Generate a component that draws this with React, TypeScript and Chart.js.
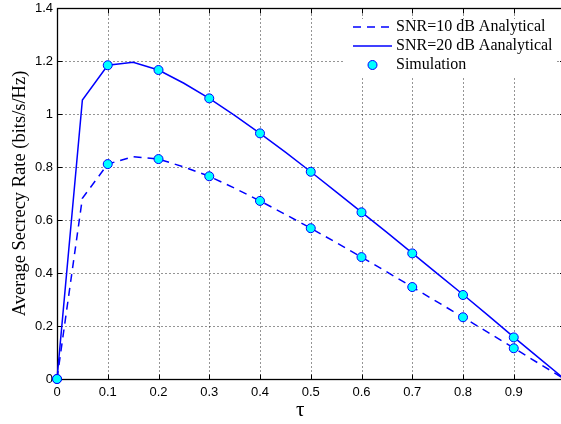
import React, { useEffect, useRef } from "react";
import { Chart, registerables } from "chart.js";

Chart.register(...registerables);

// ---- data ----
const tauLine = [0, 0.05, 0.1, 0.15, 0.2, 0.25, 0.3, 0.35, 0.4, 0.45, 0.5, 0.55, 0.6, 0.65, 0.7, 0.75, 0.8, 0.85, 0.9, 0.95, 1.0];
const analytic10 = [0, 0.682, 0.811, 0.839, 0.83, 0.8, 0.765, 0.72, 0.672, 0.621, 0.569, 0.515, 0.46, 0.404, 0.347, 0.29, 0.233, 0.175, 0.117, 0.058, 0];
const analytic20 = [0, 1.053, 1.184, 1.195, 1.166, 1.116, 1.059, 0.995, 0.927, 0.856, 0.782, 0.706, 0.63, 0.553, 0.475, 0.397, 0.319, 0.239, 0.158, 0.079, 0];

const simTau = [0, 0.1, 0.2, 0.3, 0.4, 0.5, 0.6, 0.7, 0.8, 0.9];
const sim10 = [0, 0.811, 0.83, 0.765, 0.672, 0.569, 0.46, 0.347, 0.233, 0.116];
const sim20 = [0, 1.184, 1.166, 1.059, 0.927, 0.782, 0.629, 0.474, 0.317, 0.157];

const xTickValues = [0, 0.1, 0.2, 0.3, 0.4, 0.5, 0.6, 0.7, 0.8, 0.9, 1];
const xTickLabels = ["0", "0.1", "0.2", "0.3", "0.4", "0.5", "0.6", "0.7", "0.8", "0.9", "1"];
const yTickValues = [0, 0.2, 0.4, 0.6, 0.8, 1, 1.2, 1.4];
const yTickLabels = ["0", "0.2", "0.4", "0.6", "0.8", "1", "1.2", "1.4"];

const legendLabels = ["SNR=10 dB Analytical", "SNR=20 dB Aanalytical", "Simulation"];
const xTitle = "\u03c4    ";
const yTitle = "Average Secrecy Rate (bits/s/Hz)";

const BLUE = "#0000ff";
const CYAN = "#00ffff";
const DASH = [8, 6];
const SERIF = "'Liberation Serif', 'Times New Roman', serif";
const SANS = "'Liberation Sans', Arial, Helvetica, sans-serif";

const W = 570;
const H = 424;

export default function App() {
  const ref = useRef<HTMLCanvasElement>(null);

  useEffect(() => {
    const canvas = ref.current;
    if (!canvas) return;

    const axesPlugin = {
      id: "matlabAxes",
      beforeDatasetsDraw(chart: any) {
        const { ctx, chartArea: a, scales } = chart;
        const xs = scales.x;
        const ys = scales.y;
        const L = a.left + 0.5;
        const R = a.right + 0.5;
        const T = a.top + 0.5;
        const B = a.bottom + 0.5;
        ctx.save();
        // dotted grid
        ctx.strokeStyle = "#2a2a2a";
        ctx.lineWidth = 1;
        ctx.setLineDash([1, 3]);
        xTickValues.forEach((v) => {
          if (v <= 0 || v >= 1) return;
          const px = Math.round(xs.getPixelForValue(v)) + 0.5;
          ctx.beginPath();
          ctx.moveTo(px, B);
          ctx.lineTo(px, T);
          ctx.stroke();
        });
        yTickValues.forEach((v) => {
          if (v <= 0 || v >= 1.4) return;
          const py = Math.round(ys.getPixelForValue(v)) + 0.5;
          ctx.beginPath();
          ctx.moveTo(L, py);
          ctx.lineTo(R, py);
          ctx.stroke();
        });
        ctx.setLineDash([]);
        // box
        ctx.strokeStyle = "#000";
        ctx.lineWidth = 1.3;
        ctx.strokeRect(L, T, R - L, B - T);
        // inward ticks
        const tl = 5;
        ctx.lineWidth = 1;
        xTickValues.forEach((v) => {
          const px = Math.round(xs.getPixelForValue(v)) + 0.5;
          ctx.beginPath();
          ctx.moveTo(px, B);
          ctx.lineTo(px, B - tl);
          ctx.moveTo(px, T);
          ctx.lineTo(px, T + tl);
          ctx.stroke();
        });
        yTickValues.forEach((v) => {
          const py = Math.round(ys.getPixelForValue(v)) + 0.5;
          ctx.beginPath();
          ctx.moveTo(L, py);
          ctx.lineTo(L + tl, py);
          ctx.moveTo(R, py);
          ctx.lineTo(R - tl, py);
          ctx.stroke();
        });
        ctx.restore();
      },
      afterDatasetsDraw(chart: any) {
        const { ctx } = chart;
        ctx.save();
        // legend background
        ctx.fillStyle = "#fff";
        ctx.fillRect(345, 19, 211, 57);
        const x0 = 353;
        const x1 = 392;
        const tx = 396;
        const rows = [27, 46, 65];
        ctx.strokeStyle = BLUE;
        ctx.lineWidth = 1.5;
        ctx.setLineDash(DASH);
        ctx.beginPath();
        ctx.moveTo(x0, rows[0]);
        ctx.lineTo(x1, rows[0]);
        ctx.stroke();
        ctx.setLineDash([]);
        ctx.beginPath();
        ctx.moveTo(x0, rows[1]);
        ctx.lineTo(x1, rows[1]);
        ctx.stroke();
        ctx.beginPath();
        ctx.arc((x0 + x1) / 2, rows[2], 4.5, 0, Math.PI * 2);
        ctx.fillStyle = CYAN;
        ctx.fill();
        ctx.lineWidth = 1;
        ctx.stroke();
        ctx.fillStyle = "#000";
        ctx.font = `16px ${SERIF}`;
        ctx.textBaseline = "middle";
        ctx.textAlign = "left";
        legendLabels.forEach((t, i) => ctx.fillText(t, tx, rows[i]));
        ctx.restore();
      },
    };

    const pointStyle = {
      showLine: false,
      pointRadius: 4.5,
      pointBackgroundColor: CYAN,
      pointBorderColor: BLUE,
      pointBorderWidth: 1,
      clip: false as any,
      order: 0,
    };

    const chart = new Chart(canvas, {
      type: "line",
      data: {
        datasets: [
          {
            label: "Simulation 10 dB",
            data: simTau.map((t, i) => ({ x: t, y: sim10[i] })),
            ...pointStyle,
          },
          {
            label: "Simulation 20 dB",
            data: simTau.map((t, i) => ({ x: t, y: sim20[i] })),
            ...pointStyle,
          },
          {
            label: legendLabels[0],
            data: tauLine.map((t, i) => ({ x: t, y: analytic10[i] })),
            borderColor: BLUE,
            borderWidth: 1.5,
            borderDash: DASH,
            pointRadius: 0,
            fill: false,
            tension: 0,
            clip: false as any,
            order: 1,
          },
          {
            label: legendLabels[1],
            data: tauLine.map((t, i) => ({ x: t, y: analytic20[i] })),
            borderColor: BLUE,
            borderWidth: 1.5,
            pointRadius: 0,
            fill: false,
            tension: 0,
            clip: false as any,
            order: 1,
          },
        ],
      },
      options: {
        responsive: false,
        animation: false,
        devicePixelRatio: 1,
        layout: { padding: { top: 8, right: 5, left: 0, bottom: 0 } },
        plugins: {
          legend: { display: false },
          tooltip: { enabled: false },
        },
        scales: {
          x: {
            type: "linear",
            min: 0,
            max: 1,
            afterBuildTicks: (s: any) => {
              s.ticks = xTickValues.map((v) => ({ value: v }));
            },
            afterFit: (s: any) => {
              s.height = 45;
              s.paddingLeft = 0;
              s.paddingRight = 0;
            },
            grid: { display: false, drawTicks: false },
            border: { display: false },
            ticks: {
              autoSkip: false,
              maxRotation: 0,
              padding: 6,
              color: "#000",
              font: { family: SANS, size: 13 },
              callback: (_v: any, i: number) => xTickLabels[i],
            },
            title: {
              display: true,
              text: xTitle,
              color: "#000",
              font: { family: SERIF, size: 21 },
              padding: { top: 0, bottom: 1 },
            },
          },
          y: {
            type: "linear",
            min: 0,
            max: 1.4,
            afterBuildTicks: (s: any) => {
              s.ticks = yTickValues.map((v) => ({ value: v }));
            },
            afterFit: (s: any) => {
              s.width = 57;
              s.paddingTop = 0;
              s.paddingBottom = 0;
            },
            grid: { display: false, drawTicks: false },
            border: { display: false },
            ticks: {
              autoSkip: false,
              padding: 4,
              color: "#000",
              font: { family: SANS, size: 13 },
              callback: (_v: any, i: number) => yTickLabels[i],
            },
            title: {
              display: true,
              text: yTitle,
              color: "#000",
              font: { family: SERIF, size: 18.5 },
              padding: { top: 9, bottom: 0 },
            },
          },
        },
      },
      plugins: [axesPlugin],
    });

    return () => chart.destroy();
  }, []);

  return (
    <div
      style={{
        position: "fixed",
        left: 0,
        top: 0,
        width: 561,
        height: 424,
        overflow: "hidden",
        background: "#fff",
      }}
    >
      <canvas ref={ref} width={W} height={H} style={{ display: "block", width: W, height: H }} />
    </div>
  );
}
